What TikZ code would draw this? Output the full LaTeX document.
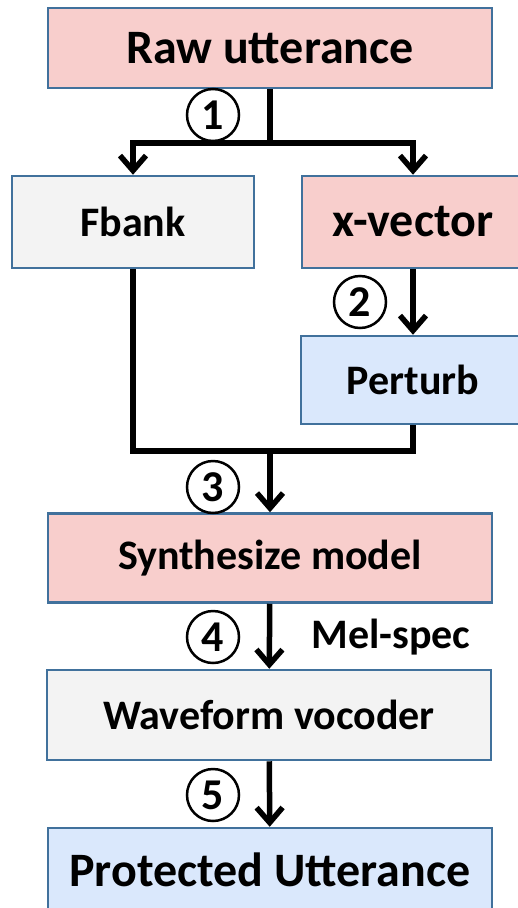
\documentclass[tikz,border=0pt]{standalone}
\usepackage{fontspec}
\setmainfont{Carlito}
\usetikzlibrary{arrows.meta}
\definecolor{edgeblue}{HTML}{41719C}
\definecolor{pinkfill}{HTML}{F8CECC}
\definecolor{grayfill}{HTML}{F3F3F3}
\definecolor{bluefill}{HTML}{DAE8FC}

\begin{document}
\begin{tikzpicture}[x=1pt,y=-1pt,
		box/.style={draw=edgeblue,line width=2.5pt,inner sep=0pt,font=\bfseries\fontsize{42}{46}\selectfont},
		bigbox/.style={box,font=\bfseries\fontsize{48}{52}\selectfont},
		num/.style={circle,draw,line width=2.5pt,minimum size=52pt,inner sep=0pt,font=\bfseries\fontsize{44}{46}\selectfont},
		link/.style={line width=5.5pt},
		arr/.style={link,-{Straight Barb[length=15pt,width=26pt]}}]
		\useasboundingbox (0,0) rectangle (518,908);
		% boxes
		\node[bigbox,fill=pinkfill,minimum width=444pt,minimum height=80pt] (raw) at (270,48) {Raw utterance};
		\node[box,fill=grayfill,minimum width=242pt,minimum height=92pt] (fbank) at (133,222) {Fbank};
		\node[bigbox,fill=pinkfill,minimum width=222pt,minimum height=92pt] (xvec) at (413,222) {x-vector};
		\node[box,fill=bluefill,minimum width=224pt,minimum height=88pt] (perturb) at (413,380) {Perturb};
		\node[box,fill=pinkfill,minimum width=444pt,minimum height=89pt] (synth) at (270,558) {Synthesize model};
		\node[box,fill=grayfill,minimum width=444pt,minimum height=90pt] (wave) at (269,715) {Waveform vocoder};
		\node[bigbox,fill=bluefill,minimum width=444pt,minimum height=84pt] (prot) at (270,870) {Protected Utterance};
		% step numbers
		\node[num] (n1) at (213,115) {1};
		\node[num] (n2) at (360,302) {2};
		\node[num] (n3) at (213,487) {3};
		\node[num] (n4) at (213,637) {4};
		\node[num] (n5) at (213,795) {5};
		\node[font=\bfseries\fontsize{42}{46}\selectfont] (mel) at (391,637) {Mel-spec};
		% connectors
		\coordinate (split) at (270,143);
		\coordinate (merge) at (270,451);
		\draw[link] (raw.south) -- (split);
		\draw[arr] (split) -| (fbank.north);
		\draw[arr] (split) -| (xvec.north);
		\draw[arr] (xvec) -- (perturb);
		\draw[link] (fbank.south) |- (merge);
		\draw[link] (perturb.south) |- (merge);
		\draw[arr] (merge) -- (synth);
		\draw[arr] (synth) -- (wave);
		\draw[arr] (wave) -- (prot);
	\end{tikzpicture}
\end{document}
